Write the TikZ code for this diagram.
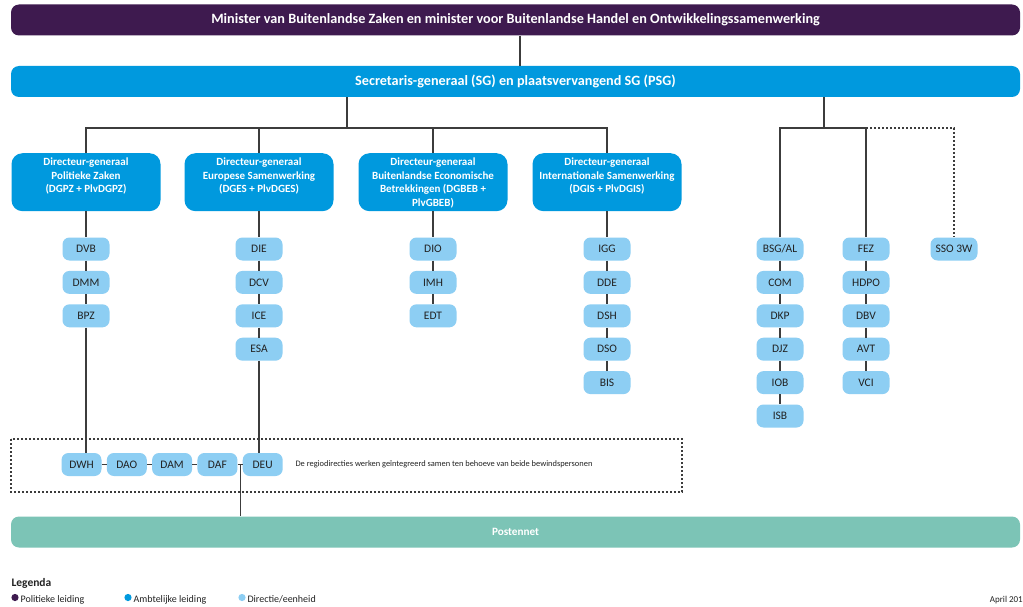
\documentclass[tikz,border=0pt]{standalone}
\usepackage{fontspec}
\setmainfont{Carlito}
\usetikzlibrary{calc}

\definecolor{polpurple}{HTML}{3E1A4F}
\definecolor{ambblue}{HTML}{0099DE}
\definecolor{dirblue}{HTML}{8DCEF3}
\definecolor{postgreen}{HTML}{7CC4B6}
\definecolor{lijn}{HTML}{3C3C3C}
\definecolor{tekst}{HTML}{222222}

\tikzset{
  widebox/.style={rounded corners=8pt, minimum width=1009pt, minimum height=31pt, text=white, font=\bfseries\fontsize{14.2}{16}\selectfont},
  dgbox/.style={fill=ambblue, rounded corners=11pt, anchor=north, inner xsep=1pt, inner ysep=5pt, text=white, font=\bfseries\fontsize{11}{13.5}\selectfont},
  unit/.style={fill=dirblue, rounded corners=7pt, minimum width=47pt, minimum height=23pt, inner sep=0pt, text=tekst, font=\fontsize{11.5}{13}\selectfont},
  regio/.style={unit, minimum width=40pt},
  conn/.style={draw=lijn, line width=1.1pt},
  dots/.style={draw=lijn, line width=1.1pt, dash pattern=on 2pt off 2pt},
  legtext/.style={anchor=base west, text=tekst, font=\fontsize{10}{11}\selectfont},
}

\begin{document}
\begin{tikzpicture}[x=1pt, y=-1pt]
  \useasboundingbox[fill=white] (0,0) rectangle (1023,607);

  % leiding
  \node[widebox, fill=polpurple] (min) at (515.5,20) {Minister van Buitenlandse Zaken en minister voor Buitenlandse Handel en Ontwikkelingssamenwerking};
  \node[widebox, fill=ambblue] (sg) at (515.5,81.5) {Secretaris-generaal (SG) en plaatsvervangend SG (PSG)};
  \draw[conn] (min.south -| 520,0) -- (sg.north -| 520,0);

  % directeuren-generaal
  \node[dgbox] (dgpz) at (86,153) {\parbox[t][48pt][t]{147pt}{\centering Directeur-generaal\\Politieke Zaken\\(DGPZ + PlvDGPZ)}};
  \node[dgbox] (dges) at (259,153) {\parbox[t][48pt][t]{147pt}{\centering Directeur-generaal\\Europese Samenwerking\\(DGES + PlvDGES)}};
  \node[dgbox] (dgbeb) at (433,153) {\parbox[t][48pt][t]{147pt}{\centering Directeur-generaal\\Buitenlandse Economische\\Betrekkingen (DGBEB +\\PlvGBEB)}};
  \node[dgbox] (dgis) at (607,153) {\parbox[t][48pt][t]{147pt}{\centering Directeur-generaal\\Internationale Samenwerking\\(DGIS + PlvDGIS)}};

  \coordinate (jl) at (347,128);
  \coordinate (jr) at (824,128);
  \draw[conn] (sg.south -| jl) -- (jl);
  \draw[conn] (dgpz.north) -- (dgpz.north |- jl) -- (dgis.north |- jl) -- (dgis.north);
  \draw[conn] (dges.north) -- (dges.north |- jl);
  \draw[conn] (dgbeb.north) -- (dgbeb.north |- jl);

  % directies
  \foreach \n/\t [count=\i] in {dvb/DVB, dmm/DMM, bpz/BPZ}
    \node[unit] (\n) at (86, {249+33.4*(\i-1)}) {\t};
  \foreach \n/\t [count=\i] in {die/DIE, dcv/DCV, ice/ICE, esa/ESA}
    \node[unit] (\n) at (259, {249+33.4*(\i-1)}) {\t};
  \foreach \n/\t [count=\i] in {dio/DIO, imh/IMH, edt/EDT}
    \node[unit] (\n) at (433, {249+33.4*(\i-1)}) {\t};
  \foreach \n/\t [count=\i] in {igg/IGG, dde/DDE, dsh/DSH, dso/DSO, bis/BIS}
    \node[unit] (\n) at (607, {249+33.4*(\i-1)}) {\t};
  \foreach \n/\t [count=\i] in {bsg/{BSG/AL}, com/COM, dkp/DKP, djz/DJZ, iob/IOB, isb/ISB}
    \node[unit] (\n) at (780, {249+33.4*(\i-1)}) {\t};
  \foreach \n/\t [count=\i] in {fez/FEZ, hdpo/HDPO, dbv/DBV, avt/AVT, vci/VCI}
    \node[unit] (\n) at (866, {249+33.4*(\i-1)}) {\t};
  \node[unit] (sso) at (954,249) {SSO 3W};

  \foreach \a/\b in {dgpz/dvb, dvb/dmm, dmm/bpz, dges/die, die/dcv, dcv/ice, ice/esa,
                     dgbeb/dio, dio/imh, imh/edt, dgis/igg, igg/dde, dde/dsh, dsh/dso, dso/bis,
                     bsg/com, com/dkp, dkp/djz, djz/iob, iob/isb, fez/hdpo, hdpo/dbv, dbv/avt, avt/vci}
    \draw[conn] (\a.south) -- (\b.north);

  \draw[conn] (sg.south -| jr) -- (jr);
  \draw[conn] (bsg.north) -- (bsg.north |- jr) -- (fez.north |- jr) -- (fez.north);
  \draw[dots] (fez.north |- jr) -- (sso.north |- jr) -- (sso.north);

  % regiodirecties
  \draw[dots] (11,439) rectangle (682,492);
  \foreach \n/\t [count=\i] in {dwh/DWH, dao/DAO, dam/DAM, daf/DAF, deu/DEU}
    \node[regio] (\n) at ({81.5+45.3*(\i-1)}, 464.5) {\t};
  \foreach \a/\b in {dwh/dao, dao/dam, dam/daf, daf/deu}
    \draw[conn] (\a.east) -- (\b.west);
  \draw[conn] (bpz.south) -- (bpz.south |- dwh.north);
  \draw[conn] (esa.south) -- (esa.south |- deu.north);
  \node[anchor=west, text=tekst, font=\fontsize{8.4}{9}\selectfont] (regtxt) at (292,464.5)
    {De regiodirecties werken geïntegreerd samen ten behoeve van beide bewindspersonen};

  % postennet
  \node[widebox, fill=postgreen, font=\bfseries\fontsize{11.2}{13}\selectfont] (post) at (515.5,532) {Postennet};
  \coordinate (pt) at ($(daf.east)!0.5!(deu.west)$);
  \draw[conn] (pt) -- (pt |- post.north);

  % legenda
  \node[legtext, font=\bfseries\fontsize{11.5}{13}\selectfont] (leg) at (8,586) {Legenda};
  \fill[polpurple] (15,597.5) circle (3.6);
  \fill[ambblue] (128,597.5) circle (3.6);
  \fill[dirblue] (242,597.5) circle (3.6);
  \node[legtext] (lpol) at (17,602.5) {Politieke leiding};
  \node[legtext] (lamb) at (130,602.5) {Ambtelijke leiding};
  \node[legtext] (ldir) at (244,602.5) {Directie/eenheid};
  \node[legtext, anchor=base east, font=\fontsize{9}{10}\selectfont, inner xsep=0pt] (datum) at (1023,602.5) {April 201};
\end{tikzpicture}
\end{document}
